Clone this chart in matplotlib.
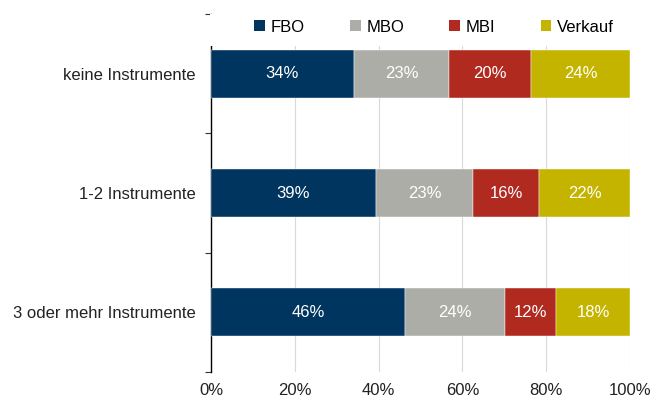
import numpy as np
import matplotlib.pyplot as plt
from matplotlib.patches import Patch, Rectangle

plt.rcParams['font.family'] = ['Liberation Sans', 'DejaVu Sans']

# Daten
kategorien = ['keine Instrumente', '1-2 Instrumente', '3 oder mehr Instrumente']
serien = ['FBO', 'MBO', 'MBI', 'Verkauf']
fbo = [34.1, 39.4, 46.4]
mbo = [22.7, 23.1, 23.7]
mbi = [19.6, 15.8, 12.3]
verkauf = [23.6, 21.7, 17.6]
farben = ['#003560', '#adada8', '#b02a20', '#c4b400']
xticks = [0, 20, 40, 60, 80, 100]

fig = plt.figure(figsize=(6.54, 4.01), dpi=100)
ax = fig.add_axes([211/654, 1-372/401, 419/654, 358/401])

y = np.arange(len(kategorien))
links = np.zeros(len(kategorien))
for name, werte, farbe in zip(serien, [fbo, mbo, mbi, verkauf], farben):
    werte = np.array(werte)
    ax.barh(y, werte, left=links, height=0.4, color=farbe, edgecolor='white',
            linewidth=0.3, zorder=3)
    for yi, l, w in zip(y, links, werte):
        ax.text(l + w/2, yi, '%.0f%%' % w, ha='center', va='center',
                color='white', fontsize=12, zorder=4)
    links += werte

ax.set_xlim(0, 100)
ax.set_ylim(2.5, -0.5)
ax.set_xticks(xticks)
ax.set_xticklabels(['%d%%' % v for v in xticks], fontsize=12, color='#222222')
ax.tick_params(axis='x', length=0, pad=8)
ax.grid(axis='x', color='#d9d9d9', linewidth=0.8, zorder=0)

# Kategorien-Beschriftung in der Mitte, Teilstriche an den Grenzen
ax.set_yticks(y)
ax.set_yticklabels(kategorien, fontsize=12, color='#222222')
ax.tick_params(axis='y', which='major', length=0, pad=11)
ax.set_yticks([-0.5, 0.5, 1.5, 2.5], minor=True)
ax.tick_params(axis='y', which='minor', length=4, width=0.8, color='#333333')

for s in ['top', 'right', 'bottom']:
    ax.spines[s].set_visible(False)
ax.spines['left'].set_color('black')
ax.spines['left'].set_linewidth(1)

# weisser Hintergrund der Legende verdeckt oberen Bereich
fig.patches.append(Rectangle((210.4/654, 1-46/401), 425/654, 31.5/401,
                             transform=fig.transFigure, facecolor='white',
                             edgecolor='none', zorder=3))

handles = [Patch(facecolor=f, label=n) for n, f in zip(serien, farben)]
leg = fig.legend(handles=handles, loc='center', bbox_to_anchor=(434/654, 1-27/401),
                 ncol=4, frameon=False, fontsize=12, handlelength=0.65,
                 handleheight=0.65, handletextpad=0.35, columnspacing=2.7)
leg.set_zorder(6)

fig.savefig('out.png', dpi=100)
